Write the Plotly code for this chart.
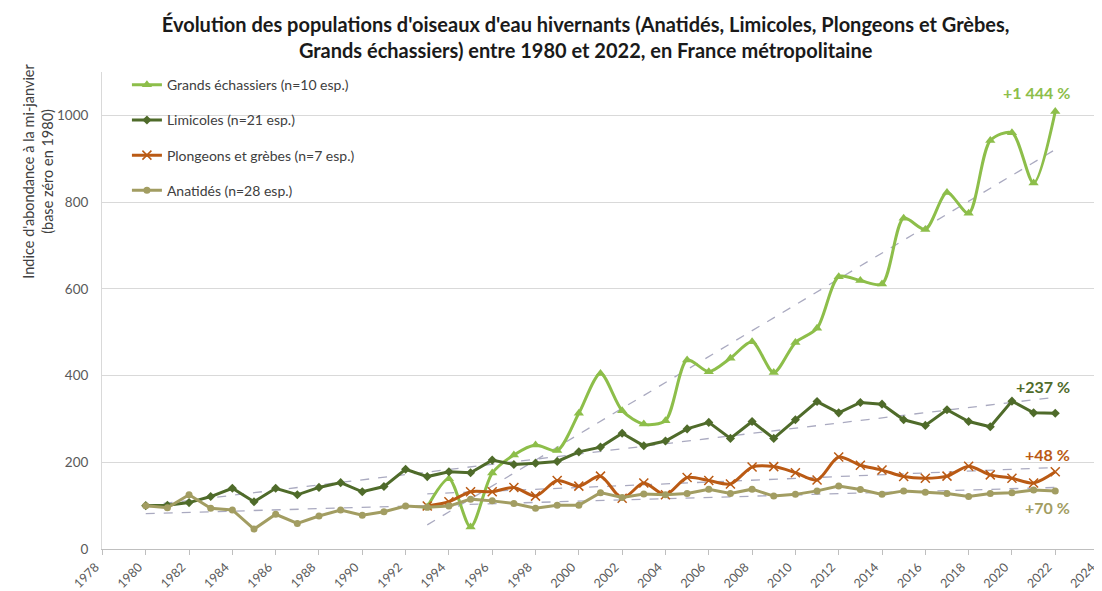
import numpy as np
import plotly.graph_objects as go

years_all = list(range(1980, 2023))
years_late = list(range(1993, 2023))

limicoles = [100, 101, 107, 121, 140, 109, 140, 125, 142, 153, 132, 144, 184, 167, 178,
             176, 205, 195, 198, 202, 224, 235, 267, 238, 249, 277, 292, 255, 294, 255,
             298, 340, 314, 338, 334, 298, 285, 321, 294, 282, 341, 314, 313]
anatides = [100, 95, 125, 94, 90, 46, 80, 59, 76, 90, 78, 86, 99, 96, 99,
            115, 111, 105, 94, 101, 101, 130, 119, 127, 125, 128, 138, 128, 138, 122,
            126, 134, 145, 137, 126, 134, 131, 128, 121, 128, 130, 136, 134]
plongeons = [99, 109, 132, 132, 142, 122, 158, 145, 168, 117, 152, 125, 165, 158, 150,
             189, 190, 176, 159, 212, 193, 182, 167, 163, 168, 191, 171, 163, 152, 178]
echassiers = [97, 162, 51, 175, 217, 240, 227, 313, 405, 319, 288, 296, 436, 409, 440,
              478, 407, 476, 509, 628, 619, 611, 763, 737, 822, 774, 942, 960, 844, 1009]

names = ["Grands échassiers (n=10 esp.)", "Limicoles (n=21 esp.)",
         "Plongeons et grèbes (n=7 esp.)", "Anatidés (n=28 esp.)"]
labels = ["+1 444 %", "+237 %", "+48 %", "+70 %"]
label_y = [1052, 374, 217, 95]
x_ticks = list(range(1978, 2025, 2))
y_ticks = list(range(0, 1001, 200))

c_ech = "#8DBE4A"
c_lim = "#4F6B2A"
c_plo = "#BA5A14"
c_ana = "#A29D62"
c_trend = "#AAAAC0"

series = [
    (names[0], years_late, echassiers, c_ech, "triangle-up", 9, "spline"),
    (names[1], years_all, limicoles, c_lim, "diamond", 7, "linear"),
    (names[2], years_late, plongeons, c_plo, "x-thin", 9, "spline"),
    (names[3], years_all, anatides, c_ana, "circle", 7, "linear"),
]

fig = go.Figure()

# trend lines (linear regressions of each series)
for name, xs, ys, col, sym, sz, shape in series:
    a, b = np.polyfit(xs, ys, 1)
    xt = [xs[0], xs[-1]]
    fig.add_trace(go.Scatter(x=xt, y=[a * v + b for v in xt], mode="lines",
                             line=dict(color=c_trend, width=1.3, dash="dash"),
                             showlegend=False, hoverinfo="skip"))

for i, (name, xs, ys, col, sym, sz, shape) in enumerate(series):
    marker = dict(symbol=sym, size=sz, color=col)
    if sym == "x-thin":
        marker["line"] = dict(color=col, width=1.5)
    fig.add_trace(go.Scatter(x=xs, y=ys, name=name, mode="lines+markers",
                             line=dict(color=col, width=3, shape=shape, smoothing=0.8),
                             marker=marker, legendgroup=str(i)))

for lab, ly, col in zip(labels, label_y, [c_ech, c_lim, c_plo, c_ana]):
    fig.add_annotation(x=2022.75, y=ly, xref="x", yref="y", text=lab,
                       showarrow=False, xanchor="right", yanchor="middle",
                       font=dict(family="Lato", size=16, color=col, weight="bold"))

fig.update_layout(
    width=1094, height=583,
    margin=dict(l=94, r=3, t=64, b=42, autoexpand=False),
    paper_bgcolor="white", plot_bgcolor="white",
    font=dict(family="Lato", color="#595959", size=13),
    title=dict(text="<b>Évolution des populations d'oiseaux d'eau hivernants (Anatidés, Limicoles, Plongeons et Grèbes,<br>Grands échassiers) entre 1980 et 2022, en France métropolitaine</b>",
               x=0.528, xanchor="center", y=0.959, yanchor="top",
               font=dict(family="Lato", size=20, color="#1a1a1a")),
    legend=dict(x=0.025, y=1.006, xanchor="left", yanchor="top",
                bgcolor="rgba(255,255,255,0)", tracegroupgap=14,
                font=dict(family="Lato", size=14, color="#404040")),
    showlegend=True,
)

fig.update_xaxes(range=[1977.98, 2024.02], tickvals=x_ticks, ticktext=[str(v) for v in x_ticks],
                 tickangle=-45, ticks="outside", ticklen=5, tickcolor="#BFBFBF",
                 ticklabeloverflow="allow", automargin=False, ticklabelshift=-7,
                 showline=True, linecolor="#BFBFBF", showgrid=False, zeroline=False,
                 tickfont=dict(size=12.5, color="#595959"))
fig.update_yaxes(range=[0, 1100], tickvals=y_ticks, showgrid=True, gridcolor="#D9D9D9",
                 showline=True, linecolor="#D9D9D9", zeroline=False, ticks="",
                 ticklabelstandoff=10, automargin=False,
                 tickfont=dict(size=13.5, color="#595959"))

fig.add_annotation(x=-0.064, y=1.021, xref="paper", yref="paper", textangle=-90,
                   text="Indice d'abondance à la mi-janvier<br>(base zéro en 1980)",
                   showarrow=False, xanchor="center", yanchor="top",
                   font=dict(family="Lato", size=14.5, color="#404040"))

fig.write_html("out.html")
